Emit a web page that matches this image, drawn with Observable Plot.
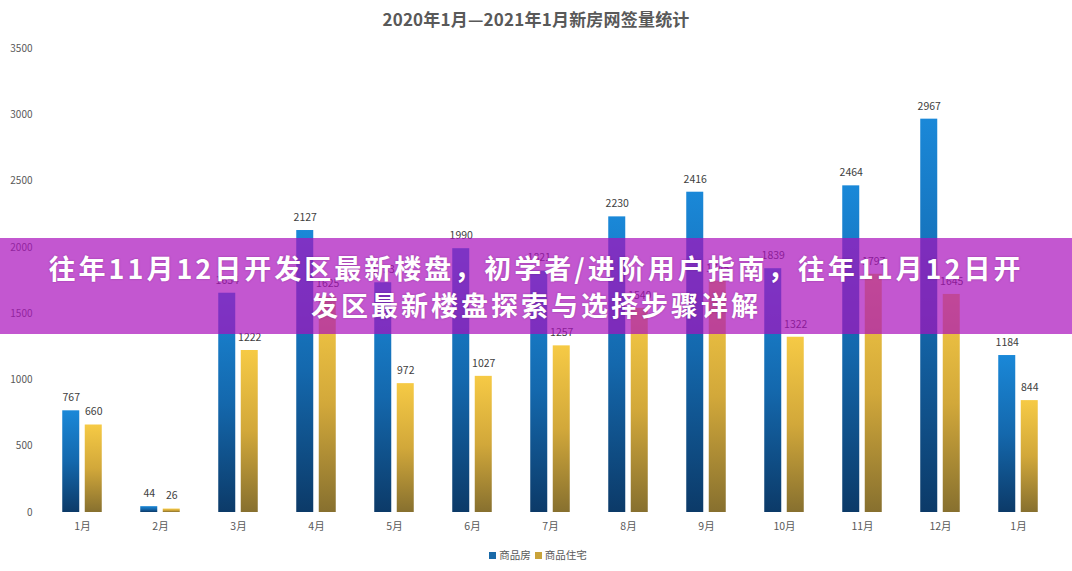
<!DOCTYPE html>
<html><head><meta charset="utf-8">
<script src="https://cdn.jsdelivr.net/npm/d3@7"></script>
<script src="https://cdn.jsdelivr.net/npm/@observablehq/plot@0.6"></script>
<style>
body{margin:0;background:#fff;font-family:"Noto Sans CJK SC","Noto Sans",sans-serif;}
#wrap{position:relative;width:1072px;height:571px;overflow:hidden;background:#fff;}
#chart{position:absolute;left:0;top:0;}
#title{position:absolute;left:0;top:6px;width:1072px;text-align:center;font-size:17px;font-weight:700;color:#595959;letter-spacing:0.2px;}
#legend{position:absolute;left:0;top:547px;width:1072px;text-align:center;font-size:10.5px;color:#595959;}
#legend span.sw{display:inline-block;width:7px;height:7px;margin:0 3px 0 4px;vertical-align:middle;position:relative;top:-1px;}
#banner{position:absolute;left:0;top:238px;width:1072px;height:96px;background:rgba(170,16,188,0.7);color:#fff;font-weight:700;font-size:27px;letter-spacing:3px;text-align:center;line-height:37px;padding-top:11px;box-sizing:border-box;text-shadow:0 0 2px rgba(80,0,90,0.4);}
</style></head><body>
<div id="wrap">
<div id="title">2020年1月—2021年1月新房网签量统计</div>
<div id="chart"></div>
<div id="legend"></div>
<div id="banner"><div id="l1"></div><div id="l2"></div></div>
</div>
<script>
const months = ["1月","2月","3月","4月","5月","6月","7月","8月","9月","10月","11月","12月","1月"];
const seriesNames = ["商品房","商品住宅"];
const commercial = [767,44,1654,2127,1733,1990,1821,2230,2416,1839,2464,2967,1184];
const residential = [660,26,1222,1625,972,1027,1257,1540,1745,1322,1797,1645,844];
const yTicks = [0,500,1000,1500,2000,2500,3000,3500];
const headline = ["往年11月12日开发区最新楼盘，初学者/进阶用户指南，往年11月12日开", "发区最新楼盘探索与选择步骤详解"];

document.getElementById("l1").textContent = headline[0];
document.getElementById("l2").textContent = headline[1];

const rowsC = commercial.map((v,i)=>({i, month:months[i], series:seriesNames[0], value:v}));
const rowsR = residential.map((v,i)=>({i, month:months[i], series:seriesNames[1], value:v}));

const off = 11.25, inset = 30.5;
const chart = Plot.plot({
  width:1072, height:571,
  marginTop:48, marginBottom:59, marginLeft:40, marginRight:13,
  style:{fontFamily:'"Noto Sans CJK SC","Noto Sans",sans-serif', background:"transparent"},
  x:{type:"band", domain:d3.range(months.length), padding:0, label:null},
  y:{domain:[0,3500], label:null},
  marks:[
    Plot.gridY(yTicks, {stroke:"#d9d9d9", strokeOpacity:1, x1:42, x2:1050}),
    Plot.axisY(yTicks, {tickSize:0, tickPadding:8, fontSize:10, fill:"#595959", label:null, tickFormat:d=>String(d)}),
    Plot.axisX({tickSize:0, tickPadding:10, fontSize:10.5, fill:"#595959", tickFormat:i=>months[i], label:null}),
    Plot.barY(rowsC, {x:"i", y:"value", fill:"url(#gBlue)", insetLeft:inset, insetRight:inset, dx:-off}),
    Plot.barY(rowsR, {x:"i", y:"value", fill:"url(#gGold)", insetLeft:inset, insetRight:inset, dx:off}),
    Plot.ruleY([0], {stroke:"#c8c8c8", x1:42, x2:1050}),
    Plot.text(rowsC, {x:"i", y:"value", text:d=>String(d.value), dx:-off, dy:-13, fontSize:10.5, fill:"#404040"}),
    Plot.text(rowsR, {x:"i", y:"value", text:d=>String(d.value), dx:off, dy:-13, fontSize:10.5, fill:"#404040"})
  ]
});
const ns = "http://www.w3.org/2000/svg";
const defs = document.createElementNS(ns,"defs");
function grad(id, stops){
  const g = document.createElementNS(ns,"linearGradient");
  g.setAttribute("id",id); g.setAttribute("x1","0"); g.setAttribute("y1","0"); g.setAttribute("x2","0"); g.setAttribute("y2","1");
  stops.forEach(([o,c])=>{const s=document.createElementNS(ns,"stop"); s.setAttribute("offset",o); s.setAttribute("stop-color",c); g.appendChild(s);});
  defs.appendChild(g);
}
grad("gBlue", [["0","#1a88d8"],["0.5","#1468ad"],["1","#0c3a68"]]);
grad("gGold", [["0","#f6ca45"],["0.5","#d2a83a"],["1","#87702f"]]);
chart.insertBefore(defs, chart.firstChild);
document.getElementById("chart").appendChild(chart);

const lg = document.getElementById("legend");
const colors = ["#1a6aa8","#c9a33a"];
seriesNames.forEach((n,k)=>{
  const sw = document.createElement("span"); sw.className="sw"; sw.style.background=colors[k];
  lg.appendChild(sw); lg.appendChild(document.createTextNode(n));
});
</script>
</body></html>
